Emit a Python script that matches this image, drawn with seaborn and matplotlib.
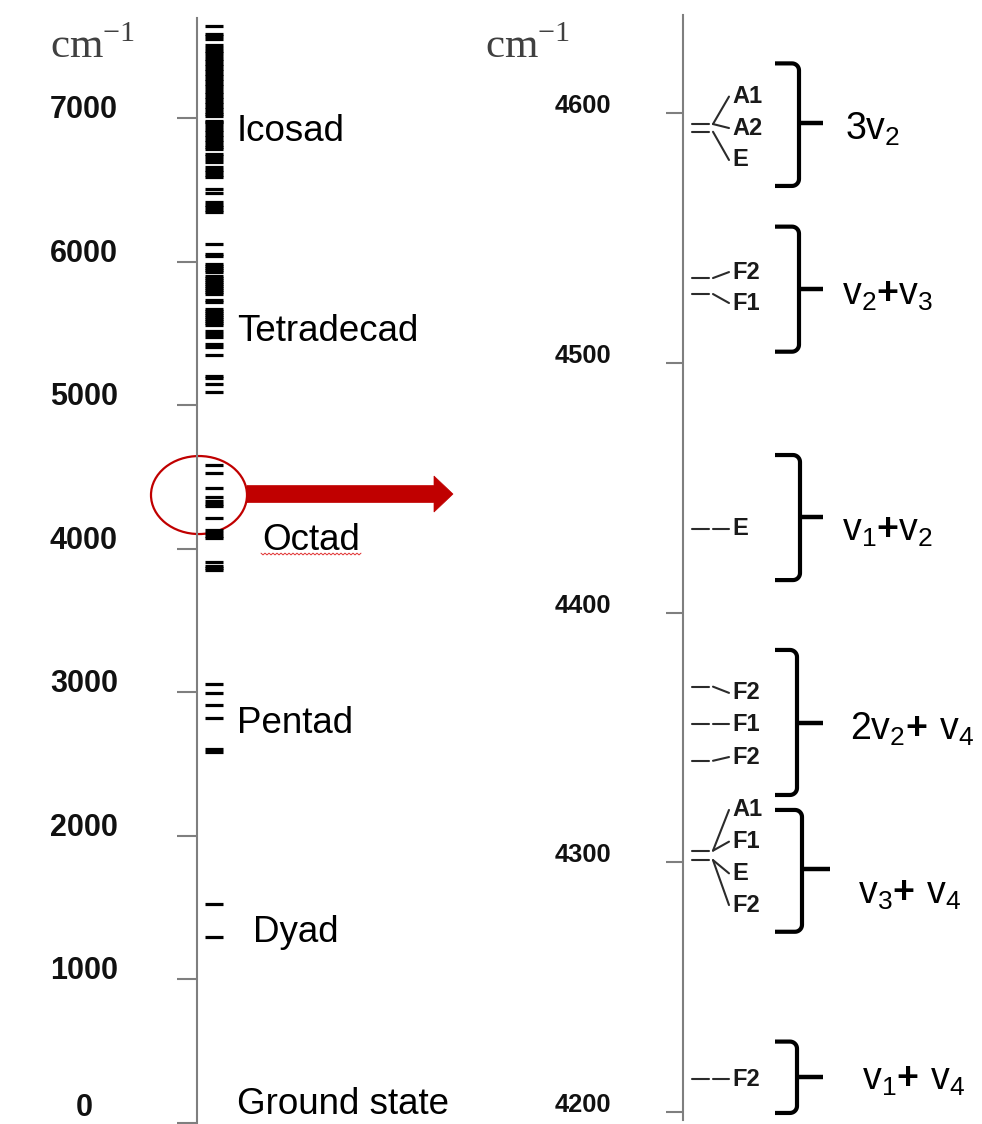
import numpy as np
import pandas as pd
import matplotlib
matplotlib.use("Agg")
import matplotlib.pyplot as plt
from matplotlib.patches import Ellipse, Polygon
import seaborn as sns

# ---------------------------------------------------------------
# Vibrational polyads of CH4 (term values, cm^-1) - overview scale
# ---------------------------------------------------------------
dyad = [1292, 1525]
pentad = [2584, 2605, 2821, 2912, 2995, 3058]
octad = [3851, 3866, 3883, 3911, 4079, 4093, 4107, 4129, 4218,
         4297, 4314, 4331, 4364, 4427, 4531, 4587]
tetradecad = [5094, 5150, 5192, 5206, 5352, 5408, 5429, 5478, 5498, 5519,
              5560, 5574, 5588, 5602, 5616, 5630, 5644, 5658, 5672,
              5721, 5735, 5777, 5790, 5804, 5818, 5832, 5846, 5860, 5874,
              5888, 5902, 5930, 5944, 5958, 5972, 5986, 6042, 6056, 6126]
icosad = [6350, 6363, 6380, 6398, 6416, 6477, 6506, 6594, 6607, 6624,
          6642, 6660, 6699, 6716, 6735, 6752, 6784, 6799, 6817, 6834,
          6852, 6870, 6887, 6905, 6922, 6940, 6958, 6975, 6985, 7018,
          7030, 7046, 7064, 7081, 7099, 7117, 7134, 7151, 7170, 7187,
          7205, 7222, 7240, 7258, 7275, 7292, 7311, 7327, 7346, 7363,
          7381, 7398, 7417, 7433, 7452, 7468, 7491, 7509, 7554, 7571,
          7586, 7647]
overview_ticks = [0, 1000, 2000, 3000, 4000, 5000, 6000, 7000]
polyad_names = ["Ground state", "Dyad", "Pentad", "Octad", "Tetradecad", "Icosad"]
polyad_label_y = [62, 1262, 2717, 3994, 5450, 6844]

# ---------------------------------------------------------------
# Octad detail, 4200-4640 cm^-1
# ---------------------------------------------------------------
PLUS = r"{\mathbf{+}}"
band_names = [r"$\mathregular{3v_2}$",
              r"$\mathregular{v_2}" + PLUS + r"\mathregular{v_3}$",
              r"$\mathregular{v_1}" + PLUS + r"\mathregular{v_2}$",
              r"$\mathregular{2v_2}" + PLUS + r"\mathregular{\ v_4}$",
              r"$\mathregular{v_3}" + PLUS + r"\mathregular{\ v_4}$",
              r"$\mathregular{v_1}" + PLUS + r"\mathregular{\ v_4}$"]
band_levels = [[4595.7, 4592.6], [4534.0, 4527.6], [4433.5],
               [4370.3, 4355.3, 4340.6], [4304.6, 4300.8], [4213.0]]
band_symmetries = [["A1", "A2", "E"], ["F2", "F1"], ["E"],
                   ["F2", "F1", "F2"], ["A1", "F1", "E", "F2"], ["F2"]]
symmetry_level = [[0, 0, 1], [0, 1], [0], [0, 1, 2], [0, 0, 1, 1], [0]]
symmetry_label_y = [[4606.7, 4594.1, 4581.3], [4536.4, 4524.0], [4433.5],
                    [4367.8, 4355.3, 4342.1], [4320.9, 4308.2, 4295.5, 4282.8],
                    [4213.0]]
brace_top = [4620.0, 4554.6, 4463.1, 4385.0, 4320.9, 4228.1]
brace_bottom = [4570.9, 4504.5, 4413.0, 4326.9, 4272.1, 4199.5]
brace_mid = [4596.1, 4529.6, 4438.3, 4355.9, 4297.1, 4214.0]
band_label_y = [4589.3, 4523.2, 4428.7, 4348.9, 4283.5, 4208.7]
detail_ticks = [4200, 4300, 4400, 4500, 4600]

# layout (pixels)
W, H = 982, 1124
sns.set_theme(style="white")
plt.rcParams["font.family"] = ["Liberation Sans", "DejaVu Sans"]
plt.rcParams["mathtext.fontset"] = "custom"
plt.rcParams["mathtext.rm"] = "Liberation Sans"
plt.rcParams["mathtext.bf"] = "Liberation Sans:bold"

fig = plt.figure(figsize=(W / 100, H / 100), dpi=100)
fig.patch.set_facecolor("white")

AX_GRAY = "#7f7f7f"
RED = "#C00000"


def segments_frame(rows):
    recs = []
    for i, (x0, y0, x1, y1) in enumerate(rows):
        recs.append((i, x0, y0))
        recs.append((i, x1, y1))
    return pd.DataFrame(recs, columns=["seg", "x", "y"])


def style_axis(ax, ticks, lo, hi, length, pad, size):
    ax.set_facecolor("none")
    for s in ["top", "right", "bottom"]:
        ax.spines[s].set_visible(False)
    ax.spines["left"].set_color(AX_GRAY)
    ax.spines["left"].set_linewidth(1.5)
    ax.spines["left"].set_bounds(lo, hi)
    ax.set_xticks([])
    ax.set_yticks(ticks)
    ax.set_yticklabels([str(t) for t in ticks])
    ax.tick_params(axis="y", left=True, direction="out", length=length, width=1.5,
                   color=AX_GRAY, pad=pad, labelsize=size, labelcolor="#111111")
    for lab in ax.get_yticklabels():
        lab.set_fontweight("bold")
        lab.set_horizontalalignment("center")
        lab.set_verticalalignment("baseline")
    ax.set_xlabel("")
    ax.set_ylabel("")
    ax.grid(False)


# ---------------- overview panel ----------------
SCALE = 0.1435  # pixels per cm^-1 in the overview panel
Y_LO = -8
ax1 = fig.add_axes([197 / W, 0, 300 / W, 1])
all_levels = dyad + pentad + octad + tetradecad + icosad
df_left = segments_frame([(8, v, 26, v) for v in all_levels])
sns.lineplot(data=df_left, x="x", y="y", units="seg", estimator=None, sort=False,
             color="black", lw=2.3, solid_capstyle="butt", legend=False, ax=ax1)
ax1.set_xlim(0, 300)
ax1.set_ylim(Y_LO, Y_LO + H / SCALE)
style_axis(ax1, overview_ticks, Y_LO, 7701, 14.4, 67, 22)
# keep the lowest label's glyph box inside the canvas
ax1.get_yticklabels()[0].set_verticalalignment("bottom")

name_x = [40, 56, 40, 65, 40, 40]
for name, y, x in zip(polyad_names, polyad_label_y, name_x):
    ax1.text(x, y, name, fontsize=26.5, color="black", ha="left", va="baseline")

# spell-check squiggle under "Octad"
sq_x = np.arange(64, 166, 2.0)
sq_y = 3964 + np.where(np.arange(len(sq_x)) % 2 == 0, 6, -6)
ax1.plot(sq_x, sq_y, color="#e03030", lw=0.7, clip_on=False)

# highlight of the octad region and arrow towards the detail panel
ax1.add_patch(Ellipse((2, 4375), 96, 78 / SCALE, fill=False, edgecolor=RED,
                      lw=1.6, clip_on=False))
ay = 4382
sh, hh = 8.5 / SCALE, 18 / SCALE
ax1.add_patch(Polygon([(50, ay - sh), (237, ay - sh), (237, ay - hh), (256, ay),
                       (237, ay + hh), (237, ay + sh), (50, ay + sh)],
                      closed=True, facecolor=RED, edgecolor=RED, lw=0.5,
                      clip_on=False))

# ---------------- detail panel ----------------
PXU = 2.496  # pixels per cm^-1 in the detail panel
ax2 = fig.add_axes([683 / W, 0, 299 / W, 1])
seg_rows = []
for lv, syms, idx, ly in zip(band_levels, band_symmetries, symmetry_level,
                             symmetry_label_y):
    for v in lv:
        seg_rows.append((9, v, 26, v))
    for s, i, y in zip(syms, idx, ly):
        seg_rows.append((30, lv[i], 46, y))
df_right = segments_frame(seg_rows)
sns.lineplot(data=df_right, x="x", y="y", units="seg", estimator=None, sort=False,
             color="#2b2b2b", lw=1.5, legend=False, ax=ax2)
ax2.set_xlim(0, 299)
ax2.set_ylim(4645.4 - H / PXU, 4645.4)
style_axis(ax2, detail_ticks, 4196.5, 4639.4, 12.2, 60, 18.4)

for syms, ly in zip(band_symmetries, symmetry_label_y):
    for s, y in zip(syms, ly):
        ax2.text(49, y, s, fontsize=17, fontweight="bold", color="#1a1a1a",
                 ha="left", va="center")

vert_x = [116, 116, 117, 114, 119, 114]
arm_x = [140, 140, 140, 140, 147, 140]
label_x = [162, 159, 159, 167, 175, 179]


def brace(ax, top, bot, mid, xv, xa, x_left=92, r=7):
    ry = r / PXU
    th = np.linspace(0, np.pi / 2, 10)
    tx = xv - r + r * np.sin(th)
    ty = top - ry + ry * np.cos(th)
    bx = xv - r + r * np.cos(th)
    by = bot + ry - ry * np.sin(th)
    xs = np.concatenate([[x_left], tx, bx, [x_left]])
    ys = np.concatenate([[top], ty, by, [bot]])
    ax.plot(xs, ys, color="black", lw=3.0, solid_joinstyle="round",
            solid_capstyle="butt", clip_on=False)
    ax.plot([xv, xa], [mid, mid], color="black", lw=3.2, solid_capstyle="butt",
            clip_on=False)


for i in range(len(band_names)):
    brace(ax2, brace_top[i], brace_bottom[i], brace_mid[i], vert_x[i], arm_x[i])
    ax2.text(label_x[i], band_label_y[i], band_names[i], fontsize=27,
             color="black", ha="left", va="baseline")

# unit captions
for x in (50, 485):
    fig.text(x / W, 1 - 58 / H, r"cm$^{\mathregular{-1}}$", fontsize=31,
             family="Liberation Serif", color="#404040", ha="left", va="baseline")

fig.savefig("out.png", dpi=100)
